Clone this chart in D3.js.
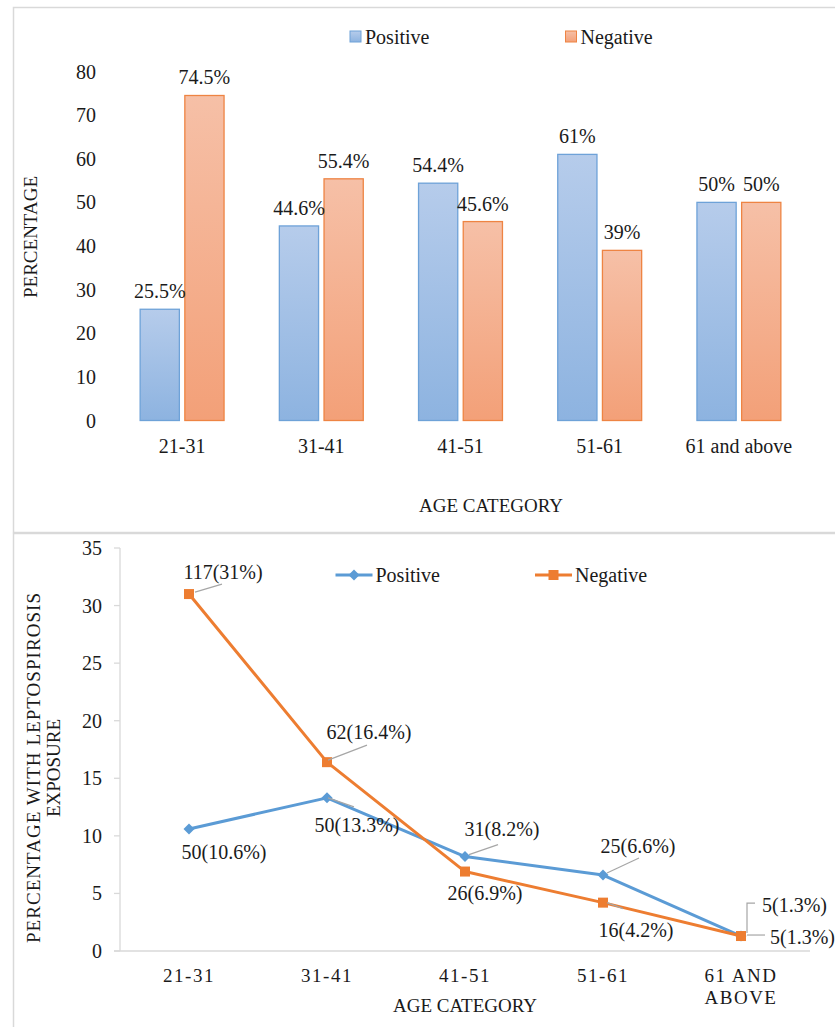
<!DOCTYPE html>
<html>
<head>
<meta charset="utf-8">
<script src="https://cdn.jsdelivr.net/npm/d3@7"></script>
<style>
  html, body { margin: 0; padding: 0; background: #fff; }
  svg { display: block; }
  svg text, svg tspan { font-family: "Liberation Serif", "Times New Roman", Times, serif; fill: #1a1a1a; }
</style>
</head>
<body>
<svg id="chart" width="835" height="1027" font-family="Liberation Serif, Times New Roman, serif"></svg>
<script>
// ---------- DATA ----------
const barCategories = ["21-31", "31-41", "41-51", "51-61", "61 and above"];
const barSeries = ["Positive", "Negative"];
const barPositive = [25.5, 44.6, 54.4, 61, 50];
const barNegative = [74.5, 55.4, 45.6, 39, 50];
const barPositiveLabels = ["25.5%", "44.6%", "54.4%", "61%", "50%"];
const barNegativeLabels = ["74.5%", "55.4%", "45.6%", "39%", "50%"];
const barYTicks = [0, 10, 20, 30, 40, 50, 60, 70, 80];

const lineCategories = [["21-31"], ["31-41"], ["41-51"], ["51-61"], ["61 AND", "ABOVE"]];
const lineSeries = ["Positive", "Negative"];
const linePositive = [10.6, 13.3, 8.2, 6.6, 1.3];
const lineNegative = [31, 16.4, 6.9, 4.2, 1.3];
const linePositiveLabels = ["50(10.6%)", "50(13.3%)", "31(8.2%)", "25(6.6%)", "5(1.3%)"];
const lineNegativeLabels = ["117(31%)", "62(16.4%)", "26(6.9%)", "16(4.2%)", "5(1.3%)"];
const lineYTicks = [0, 5, 10, 15, 20, 25, 30, 35];

// ---------- LAYOUT / STYLE ----------
const BLUE = "#5b9bd5", ORANGE = "#ed7d31";
const svg = d3.select("#chart");
svg.append("rect").attr("width", 835).attr("height", 1027).attr("fill", "#fff");

const defs = svg.append("defs");
function grad(id, c1, c2) {
  const g = defs.append("linearGradient").attr("id", id)
    .attr("x1", 0).attr("y1", 0).attr("x2", 0).attr("y2", 1);
  g.append("stop").attr("offset", "0%").attr("stop-color", c1);
  g.append("stop").attr("offset", "100%").attr("stop-color", c2);
}
grad("gPos", "#b6cceb", "#8db3e0");
grad("gNeg", "#f6c0a7", "#f3a078");
const barFill = { Positive: "url(#gPos)", Negative: "url(#gNeg)" };
const barStroke = { Positive: "#6ea2d8", Negative: "#ee8443" };

// panel borders
svg.append("rect").attr("x", 13.5).attr("y", 7.5).attr("width", 840).attr("height", 525)
  .attr("fill", "none").attr("stroke", "#d9d9d9").attr("stroke-width", 1.5);
svg.append("rect").attr("x", 13.5).attr("y", 533.5).attr("width", 840).attr("height", 520)
  .attr("fill", "none").attr("stroke", "#d9d9d9").attr("stroke-width", 1.5);

// ================= TOP: BAR CHART =================
const gTop = svg.append("g");
const x0 = d3.scaleBand().domain(barCategories).range([112.5, 808.5])
  .paddingInner(0.39).paddingOuter(0.195);
const x1 = d3.scaleBand().domain(barSeries).range([0, x0.bandwidth()]).paddingInner(0.1);
const yB = d3.scaleLinear().domain([0, 80]).range([420.5, 71.5]);

gTop.append("g").selectAll("text").data(barYTicks).join("text")
  .attr("x", 96).attr("y", d => yB(d)).attr("dy", "0.35em")
  .attr("text-anchor", "end").attr("font-size", 20).text(d => d);

gTop.append("g").selectAll("text").data(barCategories).join("text")
  .attr("x", d => x0(d) + x0.bandwidth() / 2).attr("y", 446).attr("dy", "0.35em")
  .attr("text-anchor", "middle").attr("font-size", 20).text(d => d);

const barRows = barCategories.map((c, i) => ({
  cat: c,
  vals: [
    { s: "Positive", v: barPositive[i], l: barPositiveLabels[i] },
    { s: "Negative", v: barNegative[i], l: barNegativeLabels[i] }
  ]
}));
const groups = gTop.append("g").selectAll("g").data(barRows).join("g")
  .attr("transform", d => `translate(${x0(d.cat)},0)`);
groups.selectAll("rect").data(d => d.vals).join("rect")
  .attr("x", d => x1(d.s) + 0.5).attr("width", x1.bandwidth() - 1)
  .attr("y", d => yB(d.v)).attr("height", d => yB(0) - yB(d.v))
  .attr("fill", d => barFill[d.s]).attr("stroke", d => barStroke[d.s]).attr("stroke-width", 1.3);
groups.selectAll("text").data(d => d.vals).join("text")
  .attr("x", d => x1(d.s) + x1.bandwidth() / 2).attr("y", d => yB(d.v) - 11)
  .attr("text-anchor", "middle").attr("font-size", 20).text(d => d.l);

gTop.append("text").attr("transform", "translate(30,237) rotate(-90)")
  .attr("dy", "0.35em").attr("text-anchor", "middle").attr("font-size", 19).text("PERCENTAGE");
gTop.append("text").attr("x", 491).attr("y", 505).attr("dy", "0.35em")
  .attr("text-anchor", "middle").attr("font-size", 19).text("AGE CATEGORY");

const legTop = [{ s: "Positive", x: 350 }, { s: "Negative", x: 565.5 }];
const lt = gTop.append("g").selectAll("g").data(legTop).join("g");
lt.append("rect").attr("x", d => d.x).attr("y", 31).attr("width", 11).attr("height", 11)
  .attr("fill", d => barFill[d.s]).attr("stroke", d => barStroke[d.s]).attr("stroke-width", 1);
lt.append("text").attr("x", d => d.x + 15).attr("y", 37).attr("dy", "0.35em")
  .attr("font-size", 20).text(d => d.s);

// ================= BOTTOM: LINE CHART =================
const gBot = svg.append("g");
const xL = d3.scaleBand().domain(d3.range(lineCategories.length)).range([120, 810]);
const cx = i => xL(i) + xL.bandwidth() / 2;
const yL = d3.scaleLinear().domain([0, 35]).range([951, 548]);

gBot.append("line").attr("x1", 120).attr("x2", 120).attr("y1", yL(35)).attr("y2", yL(0))
  .attr("stroke", "#d9d9d9").attr("stroke-width", 1.3);
gBot.append("line").attr("x1", 114).attr("x2", 810).attr("y1", yL(0)).attr("y2", yL(0))
  .attr("stroke", "#d9d9d9").attr("stroke-width", 1.3);
gBot.append("g").selectAll("line").data(lineYTicks).join("line")
  .attr("x1", 114).attr("x2", 120).attr("y1", d => yL(d)).attr("y2", d => yL(d))
  .attr("stroke", "#d9d9d9").attr("stroke-width", 1.3);
gBot.append("g").selectAll("text").data(lineYTicks).join("text")
  .attr("x", 102).attr("y", d => yL(d)).attr("dy", "0.35em")
  .attr("text-anchor", "end").attr("font-size", 20).text(d => d);

const xt = gBot.append("g").selectAll("text").data(lineCategories).join("text")
  .attr("text-anchor", "middle").attr("font-size", 19).attr("letter-spacing", 1.5);
xt.selectAll("tspan").data((d, i) => d.map(t => ({ t, i }))).join("tspan")
  .attr("x", d => cx(d.i)).attr("y", (d, j) => 975 + j * 22).attr("dy", "0.35em").text(d => d.t);

gBot.append("text").attr("x", 465).attr("y", 1005).attr("dy", "0.35em")
  .attr("text-anchor", "middle").attr("font-size", 19).text("AGE CATEGORY");
gBot.append("text").attr("transform", "translate(33,768) rotate(-90)")
  .attr("dy", "0.35em").attr("text-anchor", "middle").attr("font-size", 19)
  .attr("textLength", 350).attr("lengthAdjust", "spacing")
  .text("PERCENTAGE WITH LEPTOSPIROSIS");
gBot.append("text").attr("transform", "translate(53,768) rotate(-90)")
  .attr("dy", "0.35em").attr("text-anchor", "middle").attr("font-size", 19).text("EXPOSURE");

const lineGen = d3.line().x((d, i) => cx(i)).y(d => yL(d));
gBot.append("path").datum(linePositive).attr("d", lineGen)
  .attr("fill", "none").attr("stroke", BLUE).attr("stroke-width", 3).attr("stroke-linejoin", "round");
gBot.append("path").datum(lineNegative).attr("d", lineGen)
  .attr("fill", "none").attr("stroke", ORANGE).attr("stroke-width", 3).attr("stroke-linejoin", "round");

const diamond = r => `M0,${-r}L${r},0L0,${r}L${-r},0Z`;
gBot.append("g").selectAll("path").data(linePositive).join("path")
  .attr("transform", (d, i) => `translate(${cx(i)},${yL(d)})`)
  .attr("d", diamond(5.5)).attr("fill", BLUE);
gBot.append("g").selectAll("rect").data(lineNegative).join("rect")
  .attr("x", (d, i) => cx(i) - 5).attr("y", d => yL(d) - 5)
  .attr("width", 10).attr("height", 10).attr("fill", ORANGE);

const posLabelLayout = [
  { dx: 35, dy: 23, anchor: "middle", leader: null },
  { dx: 30, dy: 27, anchor: "middle", leader: [[1, 0], [27, 9]] },
  { dx: 37, dy: -28, anchor: "middle", leader: [[4, -2], [33, -12]] },
  { dx: 35, dy: -29, anchor: "middle", leader: [[4, -2], [36, -17]] },
  { dx: 21, dy: -31, anchor: "start", leader: [[6, -3], [6, -33], [14, -33]] }
];
const negLabelLayout = [
  { dx: 34, dy: -22, anchor: "middle", leader: [[6, -2], [33, -10]] },
  { dx: 42, dy: -30, anchor: "middle", leader: [[1, -2], [40, -17]] },
  { dx: 20, dy: 21, anchor: "middle", leader: null },
  { dx: 33, dy: 27, anchor: "middle", leader: [[4, 0], [20, 6]] },
  { dx: 29, dy: 1, anchor: "start", leader: [[6, -1], [24, -1]] }
];
function drawLabels(values, labels, layout) {
  const items = values.map((v, i) => ({ px: cx(i), py: yL(v), l: labels[i], ...layout[i] }));
  const g = gBot.append("g");
  g.selectAll("path").data(items.filter(d => d.leader)).join("path")
    .attr("d", d => d3.line()(d.leader.map(p => [d.px + p[0], d.py + p[1]])))
    .attr("fill", "none").attr("stroke", "#a6a6a6").attr("stroke-width", 1.2);
  g.selectAll("text").data(items).join("text")
    .attr("x", d => d.px + d.dx).attr("y", d => d.py + d.dy).attr("dy", "0.35em")
    .attr("text-anchor", d => d.anchor).attr("font-size", 20).text(d => d.l);
}
drawLabels(linePositive, linePositiveLabels, posLabelLayout);
drawLabels(lineNegative, lineNegativeLabels, negLabelLayout);

const legBot = [{ s: "Positive", x: 335.5, c: BLUE, m: "d" }, { s: "Negative", x: 535, c: ORANGE, m: "s" }];
const lb = gBot.append("g").selectAll("g").data(legBot).join("g");
lb.append("line").attr("x1", d => d.x).attr("x2", d => d.x + 37).attr("y1", 575).attr("y2", 575)
  .attr("stroke", d => d.c).attr("stroke-width", 3);
lb.filter(d => d.m === "d").append("path")
  .attr("transform", d => `translate(${d.x + 18.5},575)`).attr("d", diamond(5.5)).attr("fill", d => d.c);
lb.filter(d => d.m === "s").append("rect")
  .attr("x", d => d.x + 13.5).attr("y", 570).attr("width", 10).attr("height", 10).attr("fill", d => d.c);
lb.append("text").attr("x", d => d.x + 40).attr("y", 575).attr("dy", "0.35em")
  .attr("font-size", 20).text(d => d.s);
</script>
</body>
</html>
